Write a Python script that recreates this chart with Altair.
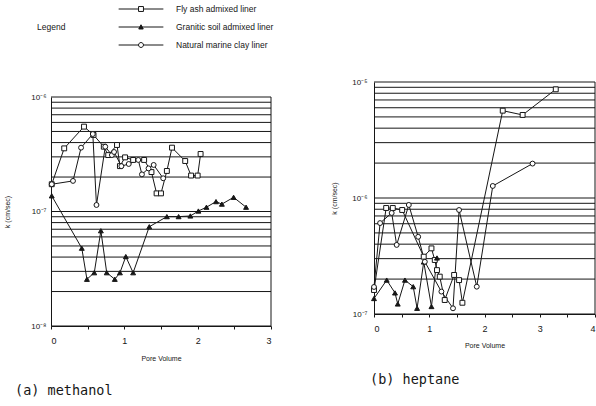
import altair as alt
import pandas as pd
import math

series_names = ["Fly ash admixed liner", "Granitic soil admixed liner", "Natural marine clay liner"]

# ---------- (a) methanol ----------
m_fly_x = [0.01, 0.18, 0.45, 0.58, 0.72, 0.78, 0.90, 0.94, 1.01, 1.12, 1.27, 1.37, 1.44, 1.50, 1.58, 1.65, 1.83, 1.91, 2.00, 2.04]
m_fly_k = [1.73e-7, 3.56e-7, 5.51e-7, 4.66e-7, 3.68e-7, 3.11e-7, 3.81e-7, 2.49e-7, 2.97e-7, 2.82e-7, 2.82e-7, 2.21e-7, 1.44e-7, 1.44e-7, 2.26e-7, 3.61e-7, 2.76e-7, 2.06e-7, 2.06e-7, 3.18e-7]

m_gra_x = [0.01, 0.42, 0.49, 0.59, 0.68, 0.76, 0.87, 0.94, 1.02, 1.12, 1.34, 1.58, 1.74, 1.90, 2.01, 2.12, 2.25, 2.33, 2.49, 2.66]
m_gra_k = [1.37e-7, 4.78e-8, 2.56e-8, 2.92e-8, 6.79e-8, 2.92e-8, 2.56e-8, 2.92e-8, 4.04e-8, 2.92e-8, 7.36e-8, 9.02e-8, 9.02e-8, 9.14e-8, 1.01e-7, 1.09e-7, 1.22e-7, 1.16e-7, 1.33e-7, 1.09e-7]

m_nat_x = [0.01, 0.30, 0.41, 0.57, 0.62, 0.74, 0.83, 0.86, 0.96, 1.06, 1.19, 1.24, 1.33, 1.40, 1.53]
m_nat_k = [1.73e-7, 1.85e-7, 3.61e-7, 4.75e-7, 1.14e-7, 3.68e-7, 3.11e-7, 3.31e-7, 2.49e-7, 2.60e-7, 2.82e-7, 2.11e-7, 2.38e-7, 2.55e-7, 1.95e-7]

# ---------- (b) heptane ----------
h_fly_x = [0.00, 0.22, 0.34, 0.51, 0.90, 1.04, 1.10, 1.14, 1.19, 1.28, 1.45, 1.54, 1.60, 2.33, 2.69, 3.29]
h_fly_k = [1.61e-7, 8.20e-7, 8.20e-7, 7.88e-7, 3.12e-7, 3.68e-7, 2.92e-7, 2.39e-7, 2.10e-7, 1.32e-7, 2.17e-7, 1.96e-7, 1.25e-7, 5.66e-6, 5.20e-6, 8.65e-6]

h_gra_x = [0.00, 0.23, 0.38, 0.43, 0.56, 0.71, 0.78, 0.90, 1.04, 1.14]
h_gra_k = [1.36e-7, 1.96e-7, 1.52e-7, 1.22e-7, 1.96e-7, 1.72e-7, 1.12e-7, 2.81e-7, 1.16e-7, 3.04e-7]

h_nat_x = [0.00, 0.11, 0.32, 0.41, 0.63, 0.80, 0.92, 1.22, 1.43, 1.54, 1.86, 2.15, 2.87]
h_nat_k = [1.71e-7, 6.08e-7, 7.43e-7, 3.94e-7, 8.71e-7, 4.63e-7, 2.82e-7, 1.56e-7, 1.12e-7, 7.88e-7, 1.72e-7, 1.27e-6, 1.98e-6]

captions = ["(a) methanol", "(b) heptane"]

FONT = "Liberation Sans"
INK = "#161616"


def frame(xs, ks, name):
    return pd.DataFrame({"x": xs, "k": ks, "series": name, "i": list(range(len(xs)))})


def exp_label():
    return ("'10' + (round(log(datum.value)/LN10) == -5 ? '⁻⁵' : "
            "round(log(datum.value)/LN10) == -6 ? '⁻⁶' : "
            "round(log(datum.value)/LN10) == -7 ? '⁻⁷' : '⁻⁸')")


def panel(dfs, xdom, xpx, ydom, ypx, xoff, yoff, ytitle_pad, ylab_pad, xtitle_pad):
    data = pd.concat(dfs, ignore_index=True)
    xs = alt.Scale(domain=xdom, range=xpx, nice=False, zero=False)
    ys = alt.Scale(type="log", domain=ydom, range=ypx, nice=False)
    xticks = [v / 2 for v in range(0, int(xdom[1]) * 2 + 1)]
    xaxis = alt.Axis(orient="bottom", offset=xoff, values=xticks,
                     labelExpr="datum.value % 1 == 0 ? format(datum.value, 'd') : ''",
                     title="Pore Volume", titleFont=FONT, titleFontSize=7, titleFontWeight="normal",
                     titlePadding=xtitle_pad, labelFont=FONT, labelFontSize=9, labelPadding=7,
                     tickSize=3, tickColor=INK, domainColor=INK, labelColor=INK, titleColor=INK,
                     grid=False)
    yaxis = alt.Axis(orient="left", offset=yoff, values=[ydom[0], ydom[0] * 10, ydom[1]],
                     labelExpr=exp_label(), title="k (cm/sec)", titleFont=FONT, titleFontSize=7,
                     titleFontWeight="normal", titlePadding=ytitle_pad, labelFont=FONT, labelFontSize=8,
                     labelPadding=ylab_pad, tickSize=0, domainColor=INK, labelColor=INK,
                     titleColor=INK, grid=False)
    X = alt.X("x:Q", scale=xs, axis=xaxis)
    Y = alt.Y("k:Q", scale=ys, axis=yaxis)

    e0 = round(math.log10(ydom[0]))
    grid_vals = [m * 10 ** (e0 + d) for d in (0, 1) for m in range(1, 10)] + [ydom[1]]
    grid_df = pd.DataFrame({"k": grid_vals, "x": xdom[0], "x2": xdom[1]})
    grid = alt.Chart(grid_df).mark_rule(color=INK, strokeWidth=1).encode(x=X, x2="x2:Q", y=Y)

    border_df = pd.DataFrame({"x": [xdom[1]], "k": [ydom[0]], "k2": [ydom[1]]})
    border = alt.Chart(border_df).mark_rule(color=INK, strokeWidth=1).encode(x=X, y=Y, y2="k2:Q")

    lines = alt.Chart(data).mark_line(color=INK, strokeWidth=1).encode(
        x=X, y=Y, detail="series:N", order="i:Q")
    pts = alt.Chart(data).mark_point(filled=False, stroke=INK, strokeWidth=1, size=24, opacity=1).encode(
        x=X, y=Y,
        shape=alt.Shape("series:N", scale=alt.Scale(domain=series_names,
                                                      range=["square", "triangle-up", "circle"]), legend=None),
        fill=alt.Fill("series:N", scale=alt.Scale(domain=series_names,
                                                    range=["white", INK, "white"]), legend=None),
    )
    return alt.layer(grid, border, lines, pts)


left = panel([frame(m_fly_x, m_fly_k, series_names[0]),
              frame(m_gra_x, m_gra_k, series_names[1]),
              frame(m_nat_x, m_nat_k, series_names[2])],
             [0, 3], [51, 271], [1e-8, 1e-6], [326, 97], -80, -51, 20, 5, 9)

right = panel([frame(h_fly_x, h_fly_k, series_names[0]),
               frame(h_gra_x, h_gra_k, series_names[1]),
               frame(h_nat_x, h_nat_k, series_names[2])],
              [0, 4], [374, 595], [1e-7, 1e-5], [314, 82], -92, -374, 14, 7, 8)

# legend glyphs: line through a marker
p_sq = "M-5,0H-0.55M0.55,0H5M-0.55,-0.55H0.55V0.55H-0.55Z"
p_tri = "M-5,0H5M-0.5,0.45L0,-0.5L0.5,0.45Z"
p_cir = "M-5,0H-0.55M0.55,0H5M-0.55,0A0.55,0.55 0 1,1 0.55,0A0.55,0.55 0 1,1 -0.55,0Z"
leg_kw = dict(orient="none", legendX=37, legendY=4, title="Legend", titleOrient="left",
              titleAnchor="middle", titleBaseline="middle", titleFont=FONT, titleFontSize=8.5,
              titleFontWeight="normal", titlePadding=70, titleColor=INK,
              labelFont=FONT, labelFontSize=8.5, labelColor=INK, labelOffset=30,
              symbolSize=80, symbolStrokeColor=INK, symbolStrokeWidth=1, rowPadding=8, padding=0)
legend_layer = alt.Chart(pd.DataFrame({"series": series_names})).transform_filter("false").mark_point(
    filled=False, opacity=1, strokeWidth=1).encode(
    shape=alt.Shape("series:N", scale=alt.Scale(domain=series_names, range=[p_sq, p_tri, p_cir]),
                    legend=alt.Legend(**leg_kw)),
    fill=alt.Fill("series:N", scale=alt.Scale(domain=series_names, range=["white", INK, "white"]),
                  legend=alt.Legend(**leg_kw)),
    stroke=alt.Stroke("series:N", scale=alt.Scale(domain=series_names, range=[INK, INK, INK]),
                      legend=alt.Legend(**leg_kw)),
)

cap_a = alt.Chart(pd.DataFrame({"t": [captions[0]]})).mark_text(
    font="DejaVu Sans Mono", fontSize=13.5, align="left", baseline="middle", color=INK).encode(
    text="t:N", x=alt.value(15), y=alt.value(391))
cap_b = alt.Chart(pd.DataFrame({"t": [captions[1]]})).mark_text(
    font="DejaVu Sans Mono", fontSize=13.5, align="left", baseline="middle", color=INK).encode(
    text="t:N", x=alt.value(370), y=alt.value(380))

chart = alt.layer(left, right, legend_layer, cap_a, cap_b).resolve_scale(
    x="independent", y="independent", shape="independent", fill="independent", stroke="independent"
).properties(
    width=596, height=406, autosize=alt.AutoSizeParams(type="none"), padding=0, background="white"
).configure_view(stroke=None)

chart.save("out.html", embed_options={"renderer": "svg", "actions": False})
